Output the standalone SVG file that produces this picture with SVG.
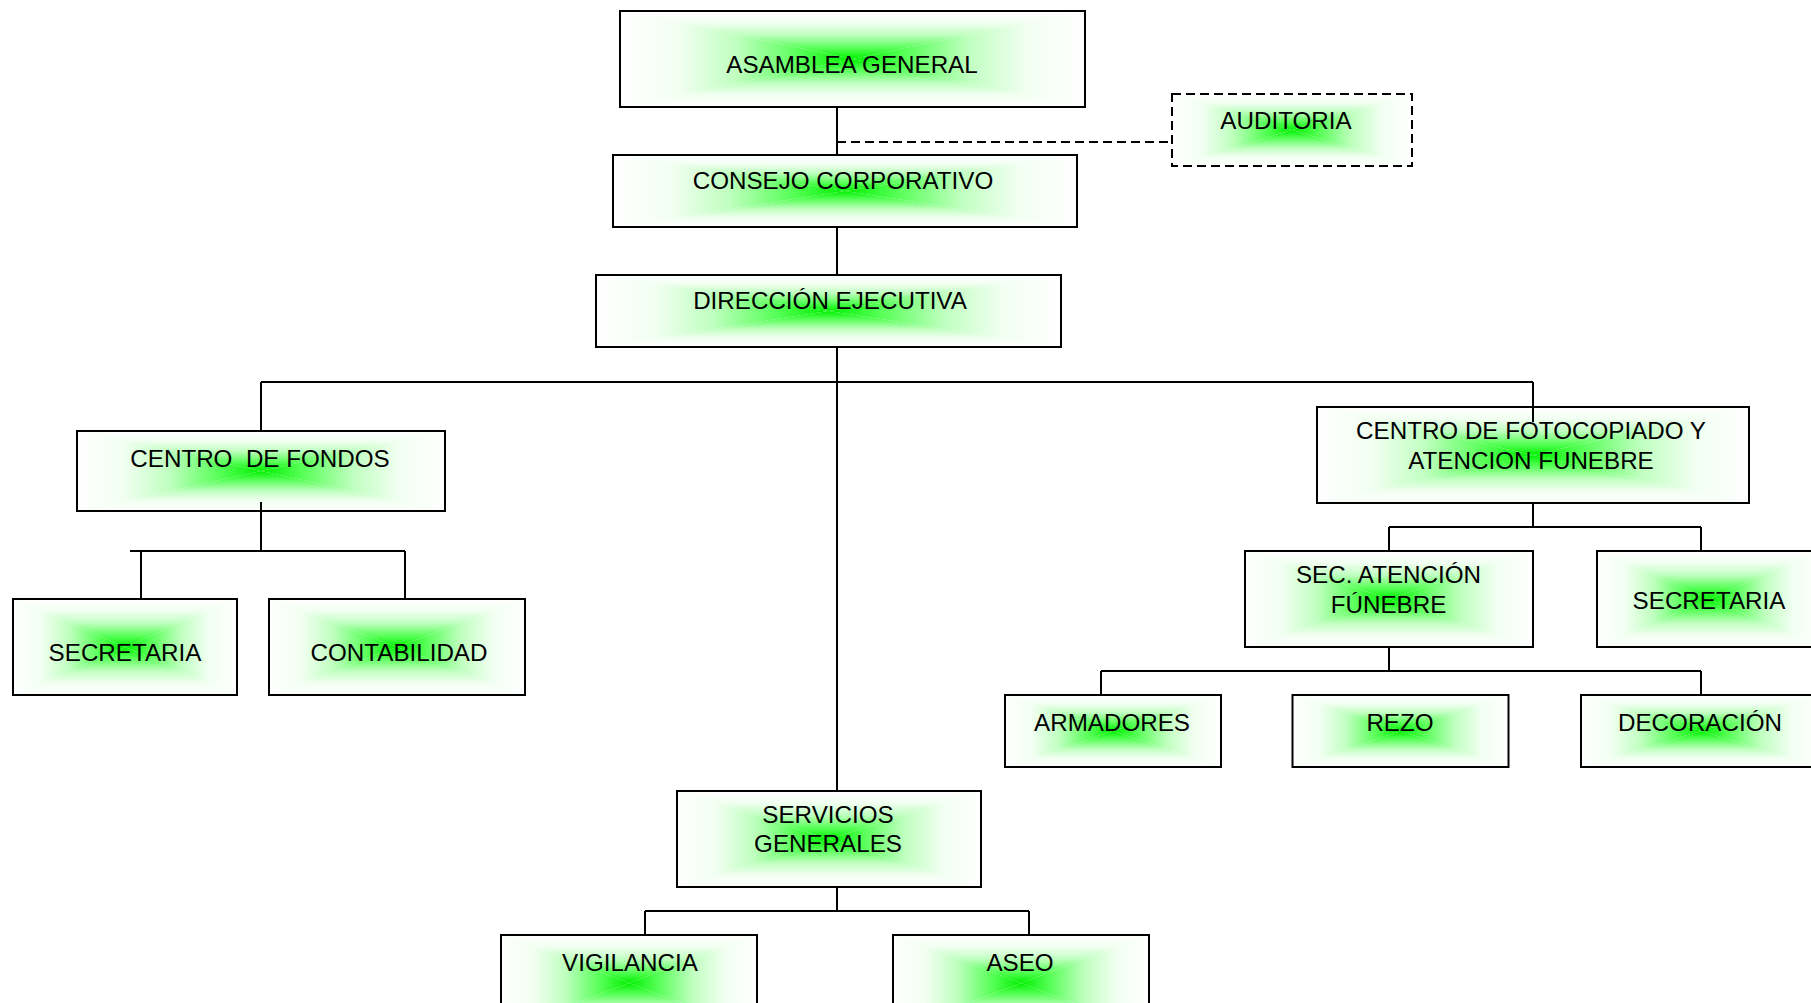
<svg xmlns="http://www.w3.org/2000/svg" xmlns:xlink="http://www.w3.org/1999/xlink" width="1811" height="1003" viewBox="0 0 1811 1003">
<style>
  .box { fill: none; stroke: #000; stroke-width: 2; }
  .dbox { fill: none; stroke: #000; stroke-width: 2; stroke-dasharray: 9 5; }
  .lbl { font-family: "Liberation Sans", Arial, sans-serif; font-size: 24.2px; fill: #000; text-anchor: middle; white-space: pre; }
  .conn { fill: none; stroke: #000; stroke-width: 2; }
  .dash { fill: none; stroke: #000; stroke-width: 2; stroke-dasharray: 9 5; }
</style>
<defs>
  <linearGradient id="gT" x1="0" y1="0" x2="0" y2="1">
    <stop offset="0" stop-color="#ffffff"/>
    <stop offset="0.25" stop-color="#f2fff2"/>
    <stop offset="0.5" stop-color="#c0ffc0"/>
    <stop offset="0.78" stop-color="#55ff55"/>
    <stop offset="1" stop-color="#00f000"/>
  </linearGradient>
  <linearGradient id="gB" xlink:href="#gT" x1="0" y1="1" x2="0" y2="0"/>
  <linearGradient id="gL" xlink:href="#gT" x1="0" y1="0" x2="1" y2="0"/>
  <linearGradient id="gR" xlink:href="#gT" x1="1" y1="0" x2="0" y2="0"/>
  <symbol id="fill" viewBox="0 0 100 100" preserveAspectRatio="none">
    <polygon points="0,0 100,0 50,50" fill="url(#gT)"/>
    <polygon points="0,100 100,100 50,50" fill="url(#gB)"/>
    <polygon points="0,0 0,100 50,50" fill="url(#gL)"/>
    <polygon points="100,0 100,100 50,50" fill="url(#gR)"/>
  </symbol>
</defs>
<rect width="1811" height="1003" fill="#fff"/>

<g id="asamblea">
  <use href="#fill" x="620" y="11" width="465" height="96"/>
  <rect class="box" x="620" y="11" width="465" height="96"/>
  <text class="lbl" x="852" y="73">ASAMBLEA GENERAL</text>
</g>
<g id="auditoria">
  <use href="#fill" x="1172" y="94" width="240" height="72"/>
  <rect class="dbox" x="1172" y="94" width="240" height="72"/>
  <text class="lbl" x="1286" y="129">AUDITORIA</text>
</g>
<g id="consejo">
  <use href="#fill" x="613" y="155" width="464" height="72"/>
  <rect class="box" x="613" y="155" width="464" height="72"/>
  <text class="lbl" x="843" y="189">CONSEJO CORPORATIVO</text>
</g>
<g id="direccion">
  <use href="#fill" x="596" y="275" width="465" height="72"/>
  <rect class="box" x="596" y="275" width="465" height="72"/>
  <text class="lbl" x="830" y="309">DIRECCIÓN EJECUTIVA</text>
</g>
<g id="centro-fondos">
  <use href="#fill" x="77" y="431" width="368" height="80"/>
  <rect class="box" x="77" y="431" width="368" height="80"/>
  <text class="lbl" x="260" y="467">CENTRO  DE FONDOS</text>
</g>
<g id="secretaria-1">
  <use href="#fill" x="13" y="599" width="224" height="96"/>
  <rect class="box" x="13" y="599" width="224" height="96"/>
  <text class="lbl" x="125" y="661">SECRETARIA</text>
</g>
<g id="contabilidad">
  <use href="#fill" x="269" y="599" width="256" height="96"/>
  <rect class="box" x="269" y="599" width="256" height="96"/>
  <text class="lbl" x="399" y="661">CONTABILIDAD</text>
</g>
<g id="centro-fotocopiado">
  <use href="#fill" x="1317" y="407" width="432" height="96"/>
  <rect class="box" x="1317" y="407" width="432" height="96"/>
  <text class="lbl" x="1531" y="439">CENTRO DE FOTOCOPIADO Y</text>
  <text class="lbl" x="1531" y="469">ATENCION FUNEBRE</text>
</g>
<g id="sec-atencion">
  <use href="#fill" x="1245" y="551" width="288" height="96"/>
  <rect class="box" x="1245" y="551" width="288" height="96"/>
  <text class="lbl" x="1388.5" y="583">SEC. ATENCIÓN</text>
  <text class="lbl" x="1388.5" y="613">FÚNEBRE</text>
</g>
<g id="secretaria-2">
  <use href="#fill" x="1597" y="551" width="224" height="96"/>
  <rect class="box" x="1597" y="551" width="224" height="96"/>
  <text class="lbl" x="1709" y="609">SECRETARIA</text>
</g>
<g id="armadores">
  <use href="#fill" x="1005" y="695" width="216" height="72"/>
  <rect class="box" x="1005" y="695" width="216" height="72"/>
  <text class="lbl" x="1112" y="731">ARMADORES</text>
</g>
<g id="rezo">
  <use href="#fill" x="1292.5" y="695" width="216" height="72"/>
  <rect class="box" x="1292.5" y="695" width="216" height="72"/>
  <text class="lbl" x="1400" y="731">REZO</text>
</g>
<g id="decoracion">
  <use href="#fill" x="1581" y="695" width="240" height="72"/>
  <rect class="box" x="1581" y="695" width="240" height="72"/>
  <text class="lbl" x="1700" y="731">DECORACIÓN</text>
</g>
<g id="servicios">
  <use href="#fill" x="677" y="791" width="304" height="96"/>
  <rect class="box" x="677" y="791" width="304" height="96"/>
  <text class="lbl" x="828" y="823">SERVICIOS</text>
  <text class="lbl" x="828" y="852">GENERALES</text>
</g>
<g id="vigilancia">
  <use href="#fill" x="501" y="935" width="256" height="96"/>
  <rect class="box" x="501" y="935" width="256" height="96"/>
  <text class="lbl" x="630" y="971">VIGILANCIA</text>
</g>
<g id="aseo">
  <use href="#fill" x="893" y="935" width="256" height="96"/>
  <rect class="box" x="893" y="935" width="256" height="96"/>
  <text class="lbl" x="1020" y="971">ASEO</text>
</g>

<g id="connectors">
  <path class="conn" d="M837,107 V155 M837,227 V275 M837,347 V791"/>
  <path class="dash" d="M837,142 H1172"/>
  <path class="conn" d="M261,382 H1533 M261,382 V431 M1533,382 V422"/>
  <path class="conn" d="M261,502 V551 M130,551 H405 M141,551 V599 M405,551 V599"/>
  <path class="conn" d="M1533,503 V527 M1389,527 H1701 M1389,527 V551 M1701,527 V551"/>
  <path class="conn" d="M1389,647 V671 M1101,671 H1701 M1101,671 V695 M1701,671 V695"/>
  <path class="conn" d="M837,887 V911 M645,911 H1029 M645,911 V935 M1029,911 V935"/>
</g>
</svg>
